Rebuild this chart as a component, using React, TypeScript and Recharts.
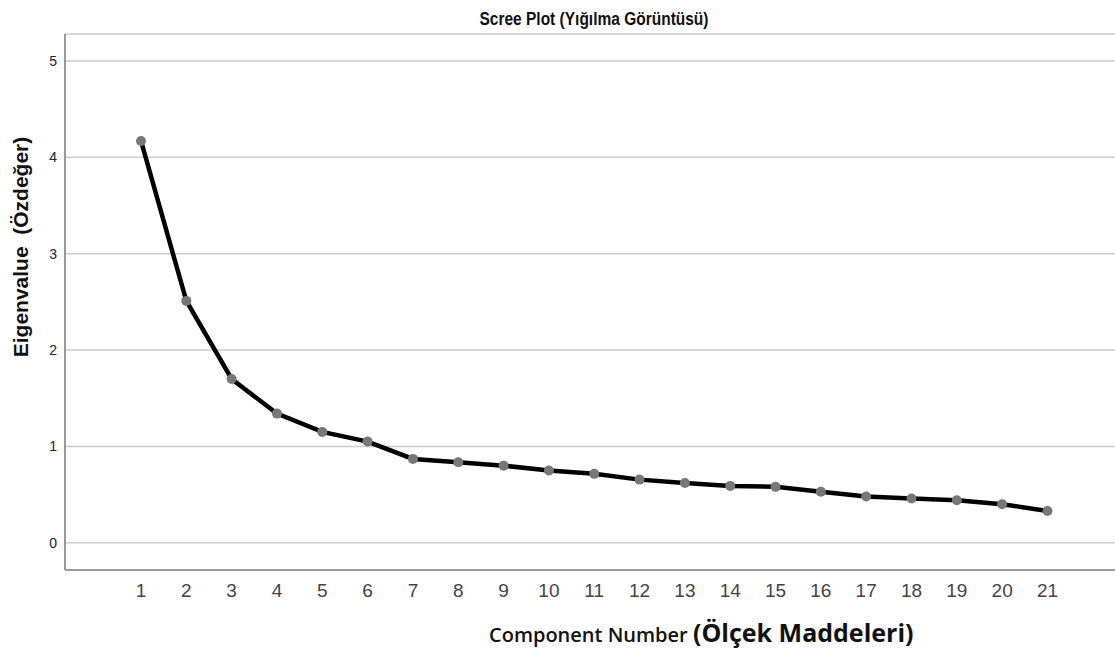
import { LineChart, Line, XAxis, YAxis, CartesianGrid, Label } from "recharts";

const components = [1, 2, 3, 4, 5, 6, 7, 8, 9, 10, 11, 12, 13, 14, 15, 16, 17, 18, 19, 20, 21];
const eigenvalues = [
  4.17, 2.51, 1.7, 1.34, 1.15, 1.05, 0.87, 0.835, 0.8, 0.75, 0.715, 0.655, 0.62, 0.59,
  0.58, 0.53, 0.48, 0.46, 0.44, 0.4, 0.33,
];
const yTicks = [0, 1, 2, 3, 4, 5];

const data = components.map((c, i) => ({ component: c, eigen: eigenvalues[i] }));

const TEXT = "#222";

function TitleText() {
  return (
    <text
      x={594}
      y={25}
      textAnchor="middle"
      fontFamily="'Liberation Sans', Arial, sans-serif"
      fontWeight="bold"
      fontSize={18}
      fill="#111"
      textLength={229}
      lengthAdjust="spacingAndGlyphs"
    >
      Scree Plot (Yığılma Görüntüsü)
    </text>
  );
}

function XTitle() {
  return (
    <text x={489} y={642} fill="#111" fontFamily="'Open Sans', sans-serif">
      <tspan fontSize={20} fontWeight={600}>
        Component Number{" "}
      </tspan>
      <tspan fontSize={25} fontWeight={700}>
        (Ölçek Maddeleri)
      </tspan>
    </text>
  );
}

function YTitle() {
  return (
    <text
      x={0}
      y={0}
      transform="translate(28,247) rotate(-90)"
      textAnchor="middle"
      fontFamily="'Liberation Sans', Arial, sans-serif"
      fontWeight="bold"
      fontSize={21}
      fill="#111"
      style={{ whiteSpace: "pre" }}
    >
      Eigenvalue  (Özdeğer)
    </text>
  );
}

export default function App() {
  return (
    <div style={{ position: "absolute", left: 0, top: 0, width: 1115, height: 651, background: "#fff" }}>
      <LineChart
        width={1115}
        height={651}
        data={data}
        margin={{ top: 34, right: 0, bottom: 0, left: 0 }}
      >
        <CartesianGrid vertical={false} stroke="#cccccc" strokeWidth={1.5} />
        <XAxis
          type="number"
          dataKey="component"
          domain={[-0.677, 22.49]}
          allowDataOverflow
          ticks={components}
          interval={0}
          height={81}
          tickLine={false}
          tickSize={0}
          tickMargin={14}
          axisLine={{ stroke: "#888", strokeWidth: 1.5 }}
          tick={{ fill: "#444", fontSize: 19, fontFamily: "'Liberation Sans', Arial, sans-serif" }}
        >
          <Label content={() => <XTitle />} />
          <Label content={() => <TitleText />} />
        </XAxis>
        <YAxis
          type="number"
          domain={[-0.283, 5.28]}
          allowDataOverflow
          ticks={yTicks}
          interval={0}
          width={65}
          tickLine={false}
          tickSize={0}
          tickMargin={8}
          axisLine={{ stroke: "#999", strokeWidth: 2 }}
          tick={{ fill: TEXT, fontSize: 14, fontFamily: "'Liberation Sans', Arial, sans-serif" }}
        >
          <Label content={() => <YTitle />} />
        </YAxis>
        <Line
          type="linear"
          dataKey="eigen"
          stroke="#000"
          strokeWidth={4.5}
          dot={{ r: 5, fill: "#777", stroke: "none" }}
          activeDot={false}
          isAnimationActive={false}
        />
      </LineChart>
    </div>
  );
}
